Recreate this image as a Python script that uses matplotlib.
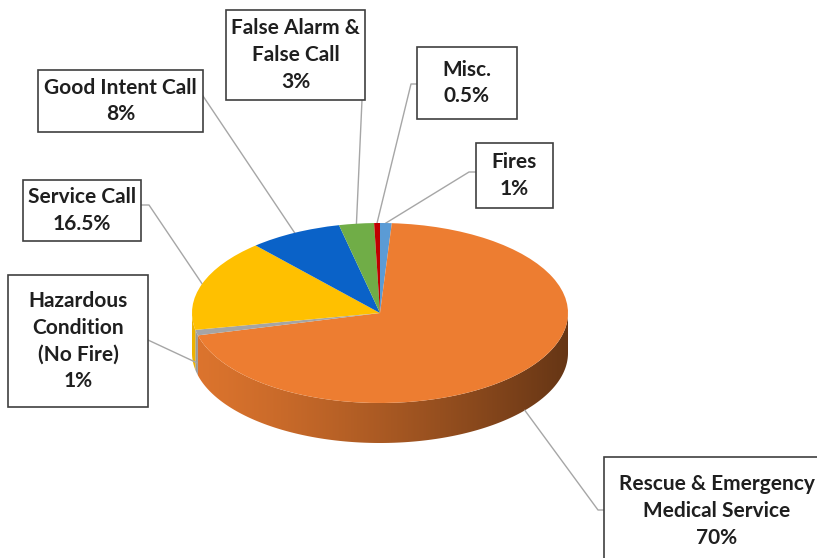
import numpy as np
import matplotlib
matplotlib.use("Agg")
import matplotlib.pyplot as plt
from matplotlib.patches import Rectangle, Polygon
from matplotlib.transforms import Affine2D
from matplotlib.colors import to_rgb

# data (clockwise from 12 o'clock)
labels = ["Fires", "Rescue & Emergency\nMedical Service", "Hazardous\nCondition\n(No Fire)",
          "Service Call", "Good Intent Call", "False Alarm &\nFalse Call", "Misc."]
shares = [1, 70, 1, 16.5, 8, 3, 0.5]
pct_text = ["1%", "70%", "1%", "16.5%", "8%", "3%", "0.5%"]
colors = ["#5B9BD5", "#ED7D31", "#A5A5A5", "#FFC000", "#0A62C8", "#70AD47", "#C00000"]

# layout (pixels, top-left origin): label boxes, where the leader meets the box
boxes = [(476, 143, 553, 208), (604, 457, 840, 580), (8, 275, 148, 407), (23, 180, 141, 241),
         (38, 70, 203, 132), (226, 10, 365, 100), (417, 47, 517, 119)]
attach = [(476, 172), (604, 510), (148, 340), (141, 205), (203, 96), (362, 100), (417, 84)]
elbow = [(469, 172), (598, 510), None, (149, 205), None, None, (411, 84)]
drop = [0, 1.0, 0.75, 0, 0, 0, 0]  # leader anchor pushed down onto the side wall

W, H = 817, 558
CX, CY = 380, 245          # pie centre, y-up pixels
RX, RY, DEPTH = 188, 90, 40


def py(y):
    return H - y


fig = plt.figure(figsize=(W / 100, H / 100), dpi=100)
ax = fig.add_axes([0, 0, 1, 1])

# slice angles (standard degrees, clockwise from top)
cum = np.concatenate([[0], np.cumsum(shares)]) / sum(shares)
th_start = 90 - 360 * cum[:-1]
th_end = 90 - 360 * cum[1:]

# side wall: front half only (angles -180..0), shaded left->right
xfrac = np.linspace(0, 1, 400)
shade = 0.93 - 0.5 * xfrac ** 1.25
for i, c in enumerate(colors):
    lo, hi = max(th_end[i], -180), min(th_start[i], 0)
    if hi <= lo:
        continue
    t = np.radians(np.linspace(lo, hi, 200))
    top = np.column_stack([CX + RX * np.cos(t), CY + RY * np.sin(t)])
    bot = top[::-1] - [0, DEPTH]
    clip = Polygon(np.vstack([top, bot]), closed=True, facecolor="none", edgecolor="none")
    ax.add_patch(clip)
    grad = np.clip(np.array(to_rgb(c))[None, None, :] * shade[None, :, None], 0, 1)
    im = ax.imshow(grad, extent=(CX - RX, CX + RX, CY - RY - DEPTH, CY), aspect="auto",
                   interpolation="bilinear", zorder=1)
    im.set_clip_path(clip)

# top face
wedges, _ = ax.pie(shares, colors=colors, startangle=90, counterclock=False,
                   radius=RX, center=(CX, CY), wedgeprops=dict(linewidth=0))
squash = Affine2D().translate(-CX, -CY).scale(1, RY / RX).translate(CX, CY)
for w in wedges:
    w.set_transform(squash + ax.transData)
    w.set_zorder(3)

ax.set_aspect("auto")
ax.set_xlim(0, W)
ax.set_ylim(0, H)
ax.axis("off")

# labels + leader lines
for i in range(len(labels)):
    mid = np.radians((th_start[i] + th_end[i]) / 2)
    ax0 = CX + RX * np.cos(mid)
    ay0 = CY + RY * np.sin(mid) - drop[i] * DEPTH
    pts = [(ax0, ay0)]
    if elbow[i] is not None:
        pts.append((elbow[i][0], py(elbow[i][1])))
    pts.append((attach[i][0], py(attach[i][1])))
    xs, ys = zip(*pts)
    ax.plot(xs, ys, color="#A6A6A6", linewidth=1.0, zorder=2)

    x0, y0, x1, y1 = boxes[i]
    ax.add_patch(Rectangle((x0, py(y1)), x1 - x0, y1 - y0, facecolor="white",
                           edgecolor="#3F3F3F", linewidth=1.2, zorder=4))
    tx = (x0 + x1) / 2 if i != 1 else 717
    ty = (y0 + y1) / 2 if i != 1 else 511
    ax.text(tx, py(ty), labels[i] + "\n" + pct_text[i], ha="center", va="center",
            fontsize=15, fontweight="bold", family=["Lato", "DejaVu Sans"],
            color="#1F1F1F", linespacing=1.42, zorder=5)

plt.savefig("out.png", dpi=100)
plt.close()
